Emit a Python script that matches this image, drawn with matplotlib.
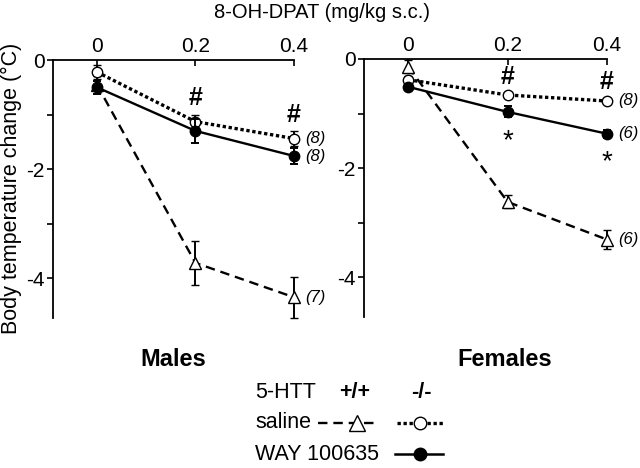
import matplotlib
matplotlib.use("Agg")
import matplotlib.pyplot as plt
from matplotlib.lines import Line2D

plt.rcParams['font.family'] = ['Liberation Sans', 'DejaVu Sans']

doses = [0, 0.2, 0.4]
dose_labels = ["0", "0.2", "0.4"]

male_sal_wt = [-0.45, -3.72, -4.35]
male_sal_wt_err = [0.15, 0.40, 0.38]
male_sal_ko = [-0.22, -1.13, -1.44]
male_sal_ko_err = [0.12, 0.12, 0.13]
male_way_ko = [-0.50, -1.30, -1.76]
male_way_ko_err = [0.12, 0.22, 0.15]

female_sal_wt = [-0.14, -2.62, -3.31]
female_sal_wt_err = [0.12, 0.12, 0.18]
female_sal_ko = [-0.38, -0.66, -0.77]
female_sal_ko_err = [0.06, 0.06, 0.06]
female_way_ko = [-0.51, -0.97, -1.37]
female_way_ko_err = [0.05, 0.10, 0.07]

male_n = ["(8)", "(8)", "(7)"]
female_n = ["(8)", "(6)", "(6)"]

W, H = 640, 468
fig = plt.figure(figsize=(6.4, 4.68), dpi=100)

def px_axes(left, top, right, bottom):
    return fig.add_axes([left / W, 1 - bottom / H, (right - left) / W, (bottom - top) / H])

ax_m = px_axes(53, 60, 294, 318)
ax_f = px_axes(364, 59, 607, 317)

dash_style = (0, (4, 2.5))
dot_style = (0, (1, 0.8))

def draw(ax, sal_wt, sal_wt_e, sal_ko, sal_ko_e, way_ko, way_ko_e):
    conts = []
    conts.append(ax.errorbar(doses, sal_wt, yerr=sal_wt_e, color='black', linestyle=dash_style,
                             lw=1.7, marker='^', ms=8, mfc='white', mec='black', mew=1.0,
                             capsize=3, elinewidth=1.4, capthick=1.4, zorder=2))
    conts.append(ax.errorbar(doses, sal_ko, yerr=sal_ko_e, color='black', linestyle=dot_style,
                             lw=2.4, marker='o', ms=7.5, mfc='white', mec='black', mew=1.0,
                             capsize=3, elinewidth=1.4, capthick=1.4, zorder=3))
    conts.append(ax.errorbar(doses, way_ko, yerr=way_ko_e, color='black', linestyle='-',
                             lw=1.7, marker='o', ms=7.5, mfc='black', mec='black',
                             capsize=3, elinewidth=1.4, capthick=1.4, zorder=4))
    for c in conts:
        for ch in c.get_children():
            ch.set_clip_on(False)
    ax.set_xlim(-0.089, 0.4)
    ax.set_ylim(-4.73, 0)
    ax.xaxis.tick_top()
    ax.set_xticks(doses)
    ax.set_xticklabels(dose_labels)
    ax.set_yticks([0, -2, -4])
    ax.set_yticklabels(["0", "-2", "-4"])
    ax.set_yticks([-1, -3], minor=True)
    ax.tick_params(axis='x', direction='in', length=4, width=1.2, labelsize=15, pad=3)
    ax.tick_params(axis='y', which='both', direction='out', length=4, width=1.2, labelsize=15, pad=2)
    for s in ['right', 'bottom']:
        ax.spines[s].set_visible(False)
    for s in ['left', 'top']:
        ax.spines[s].set_linewidth(1.3)
    ax.patch.set_alpha(0)

draw(ax_m, male_sal_wt, male_sal_wt_err, male_sal_ko, male_sal_ko_err, male_way_ko, male_way_ko_err)
draw(ax_f, female_sal_wt, female_sal_wt_err, female_sal_ko, female_sal_ko_err, female_way_ko, female_way_ko_err)

# significance marks
for x, y in [(0.2, -0.70), (0.4, -1.0)]:
    ax_m.text(x, y, "#", ha='center', va='center', fontsize=18, fontweight='bold')
for x, y in [(0.2, -0.33), (0.4, -0.42)]:
    ax_f.text(x, y, "#", ha='center', va='center', fontsize=18, fontweight='bold')
for x, y in [(0.2, -1.50), (0.4, -1.90)]:
    ax_f.text(x, y, "*", ha='center', va='center', fontsize=20)

for lab, y in zip(male_n, [male_sal_ko[2], male_way_ko[2], male_sal_wt[2]]):
    ax_m.text(0.422, y, lab, ha='left', va='center', fontsize=12, style='italic')
for lab, y in zip(female_n, [female_sal_ko[2], female_way_ko[2], female_sal_wt[2]]):
    ax_f.text(0.422, y, lab, ha='left', va='center', fontsize=12, style='italic')

# overlay for labels and legend
ov = fig.add_axes([0, 0, 1, 1])
ov.set_xlim(0, W)
ov.set_ylim(H, 0)
ov.axis('off')
ov.patch.set_alpha(0)

ov.text(322, 13, "8-OH-DPAT (mg/kg s.c.)", ha='center', va='center', fontsize=14.5)
ov.text(11, 188, "Body temperature change (°C)", ha='center', va='center', rotation=90, fontsize=15.5)
ov.text(173, 360, "Males", ha='center', va='center', fontsize=17, fontweight='bold')
ov.text(505, 360, "Females", ha='center', va='center', fontsize=17, fontweight='bold')

ov.text(255, 392, "5-HTT", ha='left', va='center', fontsize=15.5)
ov.text(355, 392, "+/+", ha='center', va='center', fontsize=15.5, fontweight='bold')
ov.text(421, 392, "-/-", ha='center', va='center', fontsize=15.5, fontweight='bold')
ov.text(255, 423, "saline", ha='left', va='center', fontsize=15.5)
ov.text(255, 454, "WAY 100635", ha='left', va='center', fontsize=15.5)

ov.add_line(Line2D([318, 379], [423, 423], color='black', lw=1.7, linestyle=dash_style))
ov.add_line(Line2D([357], [423], marker='^', ms=11, mfc='white', mec='black', mew=1.0, linestyle='none'))
ov.add_line(Line2D([397, 443], [423, 423], color='black', lw=2.4, linestyle=dot_style))
ov.add_line(Line2D([420], [423], marker='o', ms=9, mfc='white', mec='black', mew=1.0, linestyle='none'))
ov.add_line(Line2D([395, 443], [454, 454], color='black', lw=1.8, linestyle='-'))
ov.add_line(Line2D([420], [454], marker='o', ms=9, mfc='black', mec='black', linestyle='none'))

fig.savefig("out.png", dpi=100)
